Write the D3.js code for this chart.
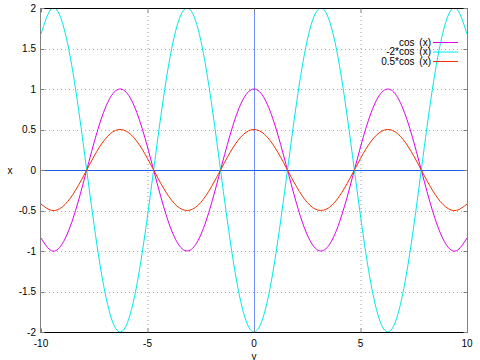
<!DOCTYPE html>
<html>
<head>
<meta charset="utf-8">
<script src="https://cdn.jsdelivr.net/npm/d3@7"></script>
<style>
  body { margin: 0; background: #fff; }
  text { font-family: "Liberation Sans", Arial, sans-serif; font-size: 10px; fill: #000; }
</style>
</head>
<body>
<div id="chart"></div>
<script>
// sample points
var xs = [-10, -9.5, -9, -8.5, -8, -7.5, -7, -6.5, -6, -5.5, -5, -4.5, -4, -3.5, -3, -2.5, -2, -1.5, -1, -0.5,
  0, 0.5, 1, 1.5, 2, 2.5, 3, 3.5, 4, 4.5, 5, 5.5, 6, 6.5, 7, 7.5, 8, 8.5, 9, 9.5, 10];

var cosVals = [-0.839, -0.997, -0.911, -0.602, -0.146, 0.347, 0.754, 0.977, 0.960, 0.709, 0.284, -0.211, -0.654, -0.936, -0.990, -0.801, -0.416, 0.071, 0.540, 0.878,
  1.000, 0.878, 0.540, 0.071, -0.416, -0.801, -0.990, -0.936, -0.654, -0.211, 0.284, 0.709, 0.960, 0.977, 0.754, 0.347, -0.146, -0.602, -0.911, -0.997, -0.839];

var neg2Vals = [1.678, 1.994, 1.822, 1.204, 0.292, -0.694, -1.508, -1.954, -1.920, -1.418, -0.568, 0.422, 1.308, 1.872, 1.980, 1.602, 0.832, -0.142, -1.080, -1.756,
  -2.000, -1.756, -1.080, -0.142, 0.832, 1.602, 1.980, 1.872, 1.308, 0.422, -0.568, -1.418, -1.920, -1.954, -1.508, -0.694, 0.292, 1.204, 1.822, 1.994, 1.678];

var halfVals = [-0.420, -0.499, -0.456, -0.301, -0.073, 0.174, 0.377, 0.489, 0.480, 0.355, 0.142, -0.106, -0.327, -0.468, -0.495, -0.401, -0.208, 0.035, 0.270, 0.439,
  0.500, 0.439, 0.270, 0.035, -0.208, -0.401, -0.495, -0.468, -0.327, -0.106, 0.142, 0.355, 0.480, 0.489, 0.377, 0.174, -0.073, -0.301, -0.456, -0.499, -0.420];

var seriesNames = ["cos (x)", "-2*cos (x)", "0.5*cos (x)"];
var seriesColors = ["#dd00ee", "#00e8e8", "#ee3300"];
var xTicks = [-10, -5, 0, 5, 10];
var yTicks = [-2, -1.5, -1, -0.5, 0, 0.5, 1, 1.5, 2];

var width = 480, height = 360;
var margin = {top: 8, right: 13, bottom: 28, left: 41};

var svg = d3.select("#chart").append("svg")
  .attr("width", width)
  .attr("height", height);

var x = d3.scaleLinear().domain([-10, 10]).range([margin.left, width - margin.right]);
var y = d3.scaleLinear().domain([-2, 2]).range([height - margin.bottom, margin.top]);

svg.append("clipPath").attr("id", "clip")
  .append("rect")
  .attr("x", margin.left).attr("y", margin.top)
  .attr("width", x(10) - x(-10)).attr("height", y(-2) - y(2));

// grid
svg.selectAll(".gx").data(xTicks.slice(1, -1)).enter().append("line")
  .attr("x1", function(d) { return x(d) + 0.5; })
  .attr("x2", function(d) { return x(d) + 0.5; })
  .attr("y1", y(2)).attr("y2", y(-2))
  .attr("stroke", "#b090b8").attr("stroke-dasharray", "1,3");

svg.selectAll(".gy").data(yTicks.slice(1, -1)).enter().append("line")
  .attr("y1", function(d) { return Math.round(y(d)) + 0.5; })
  .attr("y2", function(d) { return Math.round(y(d)) + 0.5; })
  .attr("x1", x(-10)).attr("x2", x(10))
  .attr("stroke", "#d090d0").attr("stroke-dasharray", "1,3");

// zero axes
svg.append("line")
  .attr("x1", x(0) + 0.5).attr("x2", x(0) + 0.5)
  .attr("y1", y(2)).attr("y2", y(-2))
  .attr("stroke", "#7090ff");
svg.append("line")
  .attr("x1", x(-10)).attr("x2", x(10))
  .attr("y1", Math.round(y(0)) + 0.5).attr("y2", Math.round(y(0)) + 0.5)
  .attr("stroke", "#1860f0");

// curves
var allVals = [cosVals, neg2Vals, halfVals];
var line = d3.line()
  .x(function(d, i) { return x(xs[i]); })
  .y(function(d) { return y(d); })
  .curve(d3.curveNatural);

svg.append("g").attr("clip-path", "url(#clip)")
  .selectAll("path").data(allVals).enter().append("path")
  .attr("d", line)
  .attr("fill", "none")
  .attr("stroke", function(d, i) { return seriesColors[i]; })
  .attr("stroke-width", 1);

// border
var bx0 = x(-10) - 0.5, bx1 = x(10) + 0.5, by0 = Math.round(y(2)) + 0.5, by1 = Math.round(y(-2)) + 0.5;
svg.append("line").attr("x1", bx0).attr("x2", bx1).attr("y1", by0).attr("y2", by0).attr("stroke", "#000");
svg.append("line").attr("x1", bx0).attr("x2", bx1).attr("y1", by1).attr("y2", by1).attr("stroke", "#000");
svg.append("line").attr("x1", bx0).attr("x2", bx0).attr("y1", by0).attr("y2", by1).attr("stroke", "#808080");
svg.append("line").attr("x1", bx1).attr("x2", bx1).attr("y1", by0).attr("y2", by1).attr("stroke", "#808080");

// tick marks
svg.selectAll(".ty").data(yTicks).enter().append("g").each(function(d) {
  var g = d3.select(this), yy = Math.round(y(d)) + 0.5;
  g.append("line").attr("x1", bx0).attr("x2", bx0 + 4).attr("y1", yy).attr("y2", yy).attr("stroke", "#808080");
  g.append("line").attr("x1", bx1 - 4).attr("x2", bx1).attr("y1", yy).attr("y2", yy).attr("stroke", "#808080");
});
svg.selectAll(".tx").data(xTicks).enter().append("g").each(function(d) {
  var g = d3.select(this), xx = x(d) + 0.5;
  g.append("line").attr("x1", xx).attr("x2", xx).attr("y1", by1).attr("y2", by1 - 4).attr("stroke", "#808080");
  g.append("line").attr("x1", xx).attr("x2", xx).attr("y1", by0).attr("y2", by0 + 4).attr("stroke", "#808080");
});

// tick labels
svg.selectAll(".ly").data(yTicks).enter().append("text")
  .attr("x", 36).attr("y", function(d) { return y(d); })
  .attr("dy", "0.35em").attr("text-anchor", "end")
  .text(function(d) { return d; });

svg.selectAll(".lx").data(xTicks).enter().append("text")
  .attr("x", function(d) { return x(d); }).attr("y", 343)
  .attr("dy", "0.35em").attr("text-anchor", "middle")
  .text(function(d) { return d; });

// axis labels
svg.append("text").attr("x", x(0)).attr("y", 356).attr("dy", "0.35em")
  .attr("text-anchor", "middle").text("y");
svg.append("text").attr("x", 10).attr("y", y(0)).attr("dy", "0.35em")
  .attr("text-anchor", "middle").text("x");

// legend
var legend = svg.selectAll(".leg").data(seriesNames).enter().append("g")
  .attr("transform", function(d, i) { return "translate(0," + (42 + i * 9.5) + ")"; });
legend.append("text").attr("x", 431).attr("dy", "0.35em").attr("text-anchor", "end")
  .style("word-spacing", "2px")
  .text(function(d) { return d; });
legend.append("line").attr("x1", 433).attr("x2", 458).attr("y1", 0.5).attr("y2", 0.5)
  .attr("stroke", function(d, i) { return seriesColors[i]; });
</script>
</body>
</html>
